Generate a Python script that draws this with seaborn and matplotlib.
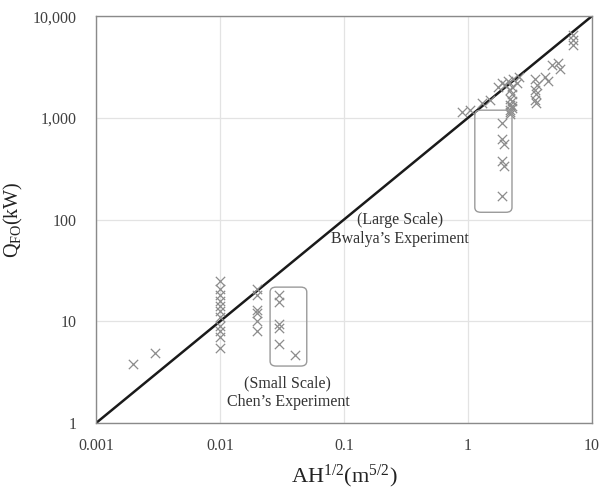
import numpy as np
import pandas as pd
import matplotlib
matplotlib.use("Agg")
import matplotlib.pyplot as plt
import seaborn as sns
from matplotlib.patches import FancyBboxPatch
from matplotlib.ticker import FixedLocator, FixedFormatter, NullLocator

# ---- data ----
small_x = [0.002, 0.003,
           0.01, 0.01, 0.01, 0.01, 0.01, 0.01, 0.01, 0.01, 0.01, 0.01, 0.01,
           0.02, 0.02, 0.02, 0.02, 0.02, 0.02,
           0.03, 0.03, 0.03, 0.03, 0.03,
           0.04]
small_y = [3.8, 4.9,
           25, 21, 18, 16, 14, 12.5, 11, 9, 8, 7, 5.5,
           21, 18, 13, 12, 10, 8,
           18, 15.5, 9.5, 8.5, 6,
           4.7]

large_x = [0.9, 1.05, 1.3, 1.5, 1.75, 1.9, 2.0, 2.1, 2.3, 2.5, 2.6,
           2.2, 2.2, 2.2, 2.25, 2.25, 2.2, 2.25, 2.2, 2.25, 2.2, 2.25,
           1.9, 1.9, 1.95, 1.9, 1.95, 1.9,
           3.5, 3.6, 3.5, 3.55, 3.5, 3.55,
           4.2, 4.4, 4.8, 5.3, 5.5, 7.0, 7.1, 7.1]
large_y = [1150, 1200, 1400, 1500, 2000, 2200, 2100, 2300, 2400, 2200, 2500,
           1100, 1150, 1200, 1250, 1300, 1350, 1450, 1550, 1700, 1900, 2000,
           900, 620, 560, 380, 340, 170,
           2400, 2100, 1900, 1700, 1500, 1400,
           2500, 2300, 3300, 3500, 3000, 6500, 5800, 5200]

fit_x = [0.001, 10]
fit_y = [1, 10000]

x_ticks = [0.001, 0.01, 0.1, 1, 10]
x_tick_labels = ["0.001", "0.01", "0.1", "1", "10"]
y_ticks = [1, 10, 100, 1000, 10000]
y_tick_labels = ["1", "10", "100", "1,000", "10,000"]

large_label = "(Large Scale)\nBwalya\u2019s Experiment"
small_label = "(Small Scale)\nChen\u2019s Experiment"

# ---- style ----
sns.set_style("white")
plt.rcParams['font.family'] = ['Liberation Serif', 'DejaVu Serif']
plt.rcParams['mathtext.fontset'] = 'custom'
plt.rcParams['mathtext.rm'] = 'Liberation Serif'
plt.rcParams['mathtext.it'] = 'Liberation Serif'

fig = plt.figure(figsize=(6.12, 4.91), dpi=100)
ax = fig.add_axes([0.157, 0.1385, 0.81, 0.8285])

ax.set_xscale("log")
ax.set_yscale("log")

pts = pd.DataFrame({"x": small_x + large_x, "y": small_y + large_y})
sns.scatterplot(data=pts, x="x", y="y", marker="x", s=45, color="#8c8c8c",
                linewidth=0.9, ax=ax, zorder=3)
sns.lineplot(x=fit_x, y=fit_y, color="#1a1a1a", linewidth=1.8, ax=ax, zorder=2)

ax.set_xlim(0.001, 10)
ax.set_ylim(1, 10000)

ax.xaxis.set_major_locator(FixedLocator(x_ticks))
ax.xaxis.set_major_formatter(FixedFormatter(x_tick_labels))
ax.xaxis.set_minor_locator(NullLocator())
ax.yaxis.set_major_locator(FixedLocator(y_ticks))
ax.yaxis.set_major_formatter(FixedFormatter(y_tick_labels))
ax.yaxis.set_minor_locator(NullLocator())

ax.tick_params(axis="both", length=0, labelsize=11.5, colors="#404040")
ax.tick_params(axis="x", pad=11)
ax.tick_params(axis="y", pad=14)

ax.grid(True, which="major", color="#e3e3e3", linewidth=0.9)
for sp in ax.spines.values():
    sp.set_color("#8a8a8a")
    sp.set_linewidth(1.0)

ax.set_xlabel(r"AH$^{1/2}$(m$^{5/2}$)", fontsize=16, labelpad=6, color="#222222")
ax.set_ylabel(r"Q$_{\mathrm{FO}}$(kW)", fontsize=14.5, color="#222222")
ax.yaxis.set_label_coords(-0.143, 0.5)

# rounded boxes around highlighted groups (axes fraction coordinates)
for (bx, by, bw, bh) in [(0.351, 0.140, 0.074, 0.194), (0.764, 0.518, 0.075, 0.251)]:
    ax.add_patch(FancyBboxPatch((bx, by), bw, bh,
                                boxstyle="round,pad=0,rounding_size=0.012",
                                transform=ax.transAxes, fill=False,
                                edgecolor="#9a9a9a", linewidth=1.0, zorder=4))

ax.text(0.283, 80, large_label, ha="center", va="center", fontsize=11.5,
        color="#333333", linespacing=1.2, zorder=5)
ax.text(0.0353, 2.0, small_label, ha="center", va="center", fontsize=11.5,
        color="#333333", linespacing=1.2, zorder=5)

fig.savefig("out.png", dpi=100)
